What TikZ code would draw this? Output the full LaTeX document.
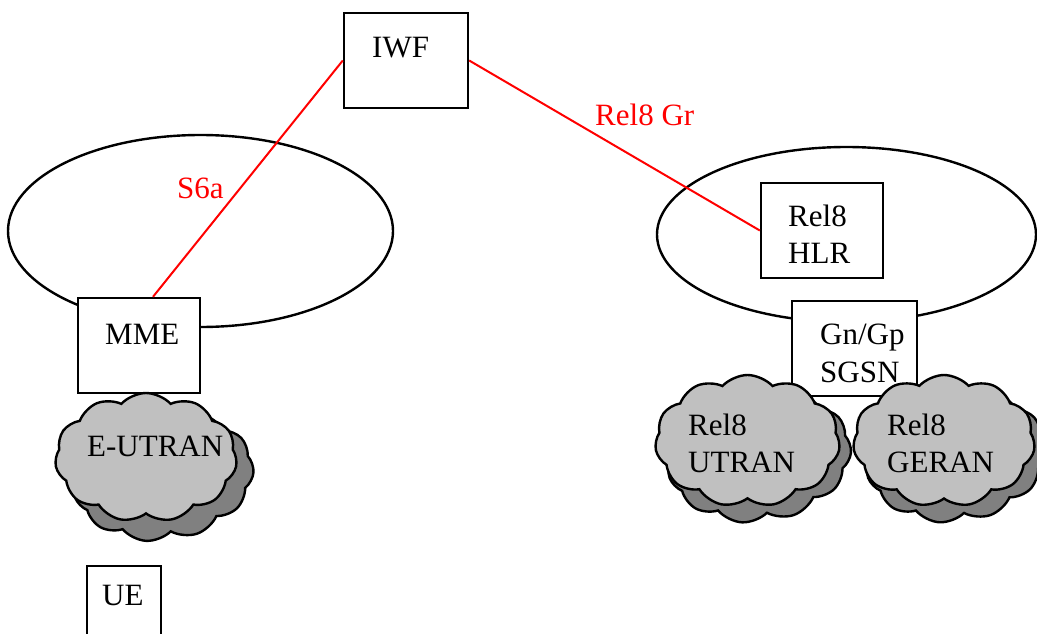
\documentclass[tikz,border=0pt]{standalone}
\usepackage{fontspec}
\setmainfont{Liberation Serif}
\usetikzlibrary{shapes.symbols,calc}
\definecolor{cloudlight}{HTML}{C0C0C0}
\definecolor{cloudshade}{HTML}{808080}
\tikzset{
  box/.style={draw=black, line width=2.4pt, fill=white, minimum width=#1, inner sep=0pt},
  lbl/.style={inner sep=0pt, anchor=base west, font=\fontsize{31}{37}\selectfont},
  rlbl/.style={lbl, text=red},
  net/.style={draw=black, line width=2.4pt},
  link/.style={draw=red, line width=2pt},
  cloudbase/.style={cloud, cloud puffs=11, cloud puff arc=95, cloud ignores aspect, draw=black, line width=2.4pt, inner sep=0pt},
  cloudfront/.style={cloudbase, fill=cloudlight},
  cloudback/.style={cloudbase, fill=cloudshade},
}
\begin{document}
\begin{tikzpicture}[x=1pt,y=-1pt]
\useasboundingbox (0,0) rectangle (1037,634);
% networks (ellipses)
\draw[net] (200.5,231) ellipse [x radius=192.5, y radius=96];
\draw[net] (846.5,234.5) ellipse [x radius=189.5, y radius=87.5];
% boxes
\node[box=124pt, minimum height=95pt] (iwf) at (406,60.5) {};
\node[box=122pt, minimum height=95pt] (mme) at (139,345.5) {};
\node[box=122pt, minimum height=95pt] (hlr) at (822,230.5) {};
\node[box=125pt, minimum height=95pt] (sgsn) at (854.5,348.5) {};
\node[box=74pt, minimum height=94pt] (ue) at (124,613) {};
% links
\draw[link] (iwf.west) -- ($(mme.north)+(14,0)$);
\draw[link] (iwf.east) -- (hlr.west);
% clouds
\node[cloudback, minimum width=182pt, minimum height=129pt, rotate=8] (eutranS) at (163,476) {};
\node[cloudfront, minimum width=182pt, minimum height=129pt] (eutran) at (146,457.5) {};
\node[cloudback, minimum width=185pt, minimum height=132pt, rotate=8] (utranS) at (759,456) {};
\node[cloudfront, minimum width=185pt, minimum height=132pt] (utran) at (747.5,441) {};
\node[cloudback, minimum width=182pt, minimum height=132pt, rotate=8] (geranS) at (956,456) {};
\node[cloudfront, minimum width=182pt, minimum height=132pt] (geran) at (944,441) {};
% texts
\node[lbl] (tiwf) at (372,58) {IWF};
\node[lbl] (tmme) at (105,344) {MME};
\node[lbl] (thlr1) at (788,226) {Rel8};
\node[lbl] (thlr2) at (788,263) {HLR};
\node[lbl] (tsgsn1) at (820,344) {Gn/Gp};
\node[lbl] (tsgsn2) at (820,382) {SGSN};
\node[lbl] (teutran) at (87,456) {E-UTRAN};
\node[lbl] (tutran1) at (688,435) {Rel8};
\node[lbl] (tutran2) at (688,472) {UTRAN};
\node[lbl] (tgeran1) at (887,435) {Rel8};
\node[lbl] (tgeran2) at (887,472) {GERAN};
\node[lbl] (tue) at (102,605) {UE};
\node[rlbl] (ts6a) at (177,198) {S6a};
\node[rlbl] (tgr) at (595,125) {Rel8 Gr};
\end{tikzpicture}
\end{document}
